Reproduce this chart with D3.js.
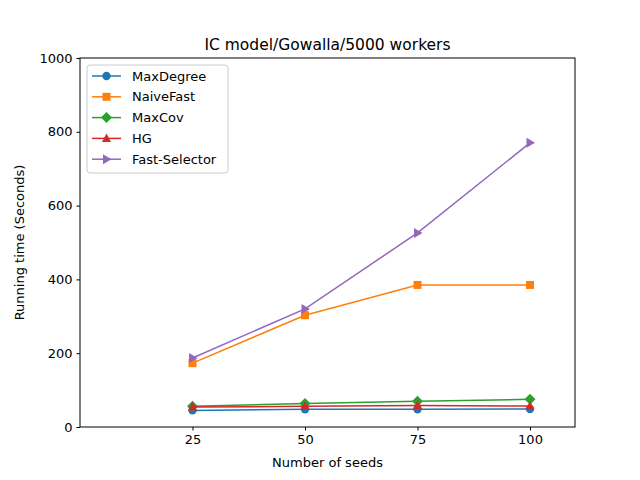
<!DOCTYPE html>
<html>
<head>
<meta charset="utf-8">
<script src="https://cdn.jsdelivr.net/npm/d3@7"></script>
<style>
  body { margin: 0; background: #fff; }
  text { font-family: "DejaVu Sans", sans-serif; }
</style>
</head>
<body>
<svg id="chart" width="640" height="480"></svg>
<script>
// data
var seeds = [25, 50, 75, 100];
var maxDegree = [45, 48, 48, 49];
var naiveFast = [173, 303, 385, 385];
var maxCov = [56, 64, 70, 75];
var hg = [54, 56, 58, 57];
var fastSelector = [187, 320, 526, 770];
var yTicks = [0, 200, 400, 600, 800, 1000];

var series = [
  { name: 'MaxDegree', values: maxDegree, color: '#1f77b4', marker: 'circle' },
  { name: 'NaiveFast', values: naiveFast, color: '#ff7f0e', marker: 'square' },
  { name: 'MaxCov', values: maxCov, color: '#2ca02c', marker: 'diamond' },
  { name: 'HG', values: hg, color: '#d62728', marker: 'triangle' },
  { name: 'Fast-Selector', values: fastSelector, color: '#9467bd', marker: 'right' }
];

var margin = { top: 58, right: 65, bottom: 53, left: 80 };
var width = 640 - margin.left - margin.right;
var height = 480 - margin.top - margin.bottom;

var svg = d3.select('#chart')
  .append('g')
  .attr('transform', 'translate(' + margin.left + ',' + margin.top + ')');

var x = d3.scaleLinear().domain([0, 110]).range([0, width]);
var y = d3.scaleLinear().domain([0, 1000]).range([height, 0]);

function markerPath(type) {
  if (type === 'circle') return d3.symbol().type(d3.symbolCircle).size(55)();
  if (type === 'square') return 'M-4,-4L4,-4L4,4L-4,4Z';
  if (type === 'diamond') return 'M0,-5.5L5.5,0L0,5.5L-5.5,0Z';
  if (type === 'triangle') return 'M0,-5L4.5,3.5L-4.5,3.5Z';
  return 'M-3.5,-5L5,0L-3.5,5Z';
}

var line = d3.line()
  .x((d, i) => x(seeds[i]))
  .y(d => y(d));

series.forEach(function (s) {
  svg.append('path')
    .attr('d', line(s.values))
    .attr('fill', 'none')
    .attr('stroke', s.color)
    .attr('stroke-width', 1.5);

  svg.selectAll('.m-' + s.marker)
    .data(s.values)
    .enter()
    .append('path')
    .attr('class', 'm-' + s.marker)
    .attr('transform', (d, i) => 'translate(' + x(seeds[i]) + ',' + y(d) + ')')
    .attr('d', markerPath(s.marker))
    .attr('fill', s.color);
});

// axes
var xAxis = d3.axisBottom(x).tickValues(seeds).tickSize(3.5).tickPadding(4);
var yAxis = d3.axisLeft(y).tickValues(yTicks).tickFormat(d3.format('d')).tickSize(3.5).tickPadding(4);

svg.append('g')
  .attr('transform', 'translate(0,' + height + ')')
  .call(xAxis)
  .call(g => g.select('.domain').remove())
  .selectAll('text').style('font-size', '13px').attr('fill', '#000');

svg.append('g')
  .call(yAxis)
  .call(g => g.select('.domain').remove())
  .selectAll('text').style('font-size', '13px').attr('fill', '#000');

svg.append('rect')
  .attr('width', width)
  .attr('height', height)
  .attr('fill', 'none')
  .attr('stroke', '#000')
  .attr('stroke-width', 1);

// labels
svg.append('text')
  .attr('x', width / 2)
  .attr('y', -8)
  .attr('text-anchor', 'middle')
  .style('font-size', '15.5px')
  .text('IC model/Gowalla/5000 workers');

svg.append('text')
  .attr('x', width / 2)
  .attr('y', height + 40)
  .attr('text-anchor', 'middle')
  .style('font-size', '13px')
  .text('Number of seeds');

svg.append('text')
  .attr('transform', 'rotate(-90)')
  .attr('x', -height / 2)
  .attr('y', -56)
  .attr('text-anchor', 'middle')
  .style('font-size', '13px')
  .text('Running time (Seconds)');

// legend
var legend = svg.append('g').attr('transform', 'translate(7,7)');
legend.append('rect')
  .attr('width', 141)
  .attr('height', 108)
  .attr('rx', 3)
  .attr('fill', '#fff')
  .attr('fill-opacity', 0.8)
  .attr('stroke', '#ccc');

var item = legend.selectAll('.item')
  .data(series)
  .enter()
  .append('g')
  .attr('class', 'item')
  .attr('transform', (d, i) => 'translate(0,' + (11 + i * 20.8) + ')');

item.append('line')
  .attr('x1', 5).attr('x2', 34)
  .attr('stroke', d => d.color)
  .attr('stroke-width', 1.5);

item.append('path')
  .attr('transform', 'translate(19.5,0)')
  .attr('d', d => markerPath(d.marker))
  .attr('fill', d => d.color);

item.append('text')
  .attr('x', 45)
  .attr('y', 4.5)
  .style('font-size', '13px')
  .text(d => d.name);
</script>
</body>
</html>
